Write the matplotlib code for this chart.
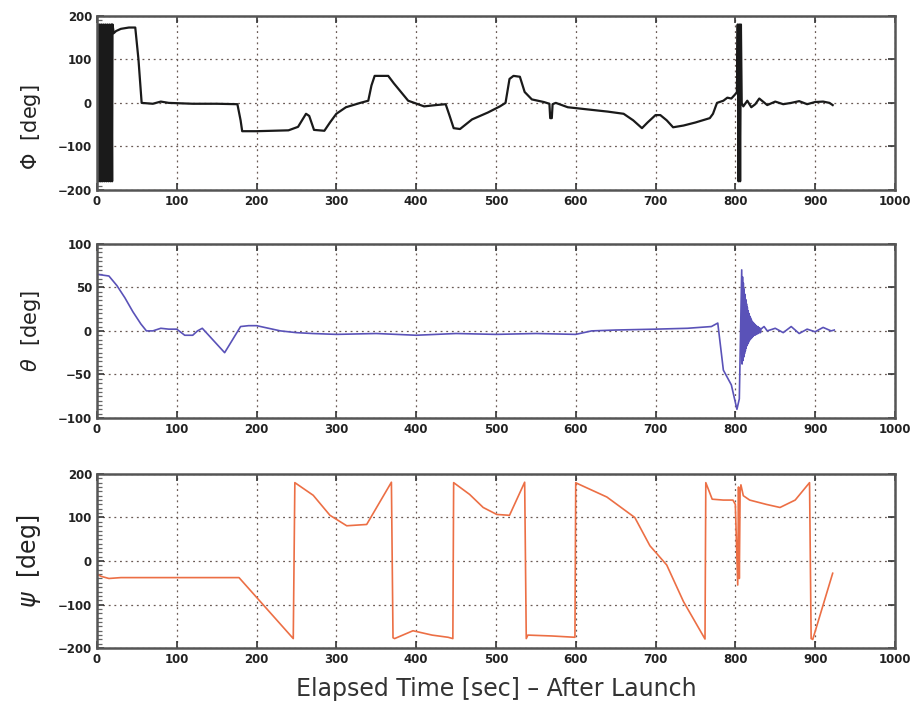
import matplotlib
matplotlib.use('Agg')
import matplotlib.pyplot as plt
from matplotlib.ticker import MultipleLocator, AutoMinorLocator

# roll angle Phi (black)
phi_t = [0, 1.2, 2.4, 3.6, 4.8, 6, 7.2, 8.4, 9.6, 10.8, 12, 13.2, 14.4, 15.6, 16.8, 18, 19,
         19.5, 21, 24, 30, 40, 48, 52, 56, 70, 80, 90, 120, 150, 176, 180, 182, 200, 240,
         252, 262, 266, 272, 285, 292, 300, 312, 330, 340, 344, 348, 365, 372, 390, 410,
         425, 437, 442, 447, 455, 470, 490, 505, 512, 517, 522, 530, 536, 545, 560, 567,
         568, 570, 571, 575, 590, 610, 640, 660, 672, 683, 690, 700, 706, 714, 722, 735,
         750, 768, 772, 777, 785, 790, 795, 800, 802, 803, 804, 805, 806, 807, 808, 810,
         815, 820, 825, 830, 840, 850, 860, 870, 880, 890, 900, 910, 918, 922]
phi_v = [-180, 180, -180, 180, -180, 180, -180, 180, -180, 180, -180, 180, -180, 180, -180, 180, -180,
         180, 160, 165, 170, 173, 173, 100, 0, -2, 3, 0, -2, -2, -3, -40, -65, -65, -63,
         -55, -25, -30, -62, -64, -45, -25, -10, 0, 5, 40, 62, 62, 45, 5, -8,
         -5, -3, -30, -58, -60, -38, -22, -8, 0, 55, 62, 60, 25, 8, 2, -2,
         -35, -35, -3, 0, -10, -14, -20, -25, -40, -58, -45, -28, -28, -40, -56, -52,
         -45, -35, -25, 0, 5, 12, 10, 20, 25, 180, -180, 180, -180, 180, 0, -8,
         5, -10, -3, 10, -5, 3, -3, 0, 4, -3, 2, 3, 0, -5]

# pitch angle theta (blue)
theta_t = [0, 15, 25, 35, 45, 55, 62, 70, 80, 90, 100, 110, 120, 126, 132, 140, 150, 160,
           170, 180, 190, 200, 215, 230, 250, 270, 300, 350, 400, 450, 500, 550, 600, 620,
           650, 700, 740, 770, 778, 785, 795, 802, 805,
           808, 808.5, 809, 809.5, 810, 810.5, 811, 811.5, 812, 812.5, 813, 813.5,
           814, 814.5, 815, 815.5, 816, 816.5, 817, 817.5, 818, 818.5, 819, 819.5,
           820, 820.5, 821, 821.5, 822, 822.5, 823, 823.5, 824, 824.5, 825, 825.5,
           826, 826.5, 827, 827.5, 828, 828.5, 829, 829.5, 830, 830.5, 831, 831.5, 832,
           836, 840, 850, 860, 870, 880, 890, 900, 910, 920, 924]
theta_v = [65, 63, 52, 38, 22, 8, 0, 0, 3, 2, 2, -5, -5, 0, 3, -5, -15, -25,
           -10, 5, 6, 6, 3, 0, -2, -3, -4, -3, -5, -3, -4, -3, -4, 0,
           1, 2, 3, 5, 9, -45, -62, -90, -78,
           70, -38, 62, -34, 55, -30, 48, -26, 42, -23, 36, -20,
           31, -17, 27, -15, 23, -13, 20, -11, 17, -10, 15, -9,
           13, -8, 11, -7, 10, -6, 9, -5, 8, -5, 7, -4,
           6, -4, 5, -3, 5, -3, 4, -2, 3, -2, 3, -2, 2,
           5, 0, 3, -2, 5, -3, 2, -1, 4, 0, 1]

# yaw angle psi (orange)
psi_t = [0, 5, 15, 30, 100, 178, 246, 248, 271, 292, 313, 338, 369, 371, 373, 396, 420,
         440, 446, 447, 467, 484, 501, 517, 536, 538, 540, 570, 599, 600, 602, 639, 674,
         693, 714, 735, 762, 763, 771, 785, 797, 800, 803, 804, 805, 806, 807, 810, 818,
         839, 856, 875, 893, 895, 897, 922]
psi_v = [-30, -35, -40, -38, -38, -38, -178, 180, 151, 105, 81, 84, 181, -176, -178, -160, -170,
         -175, -178, 180, 153, 123, 107, 105, 181, -178, -170, -172, -175, 180, 178, 147, 100,
         35, -9, -93, -179, 180, 142, 140, 140, 130, -55, 170, -40, 160, 175, 150, 140,
         130, 123, 140, 180, -178, -180, -28]

fig = plt.figure(figsize=(9.13, 7.17), dpi=100)

panels = [
    (phi_t, phi_v, '#1a1a1a', r'$\Phi$  [deg]', 200, 100, 0.735, 15, 0.36),
    (theta_t, theta_v, '#5a52b8', r'$\theta$  [deg]', 100, 50, 0.417, 15, 0.5),
    (psi_t, psi_v, '#ec6f45', r'$\psi$  [deg]', 200, 100, 0.096, 17, 0.5),
]

axes = []
for t, v, col, lab, lim, step, bottom, lsize, ly in panels:
    ax = fig.add_axes([0.1062, bottom, 0.874, 0.243])
    ax.plot(t, v, color=col, lw=1.6 if col == '#1a1a1a' else 1.2)
    ax.set_xlim(0, 1000)
    ax.set_ylim(-lim, lim)
    ax.xaxis.set_major_locator(MultipleLocator(100))
    ax.yaxis.set_major_locator(MultipleLocator(step))
    ax.yaxis.set_minor_locator(AutoMinorLocator(10))
    ax.grid(True, which='major', color='#6a5a55', linestyle=(0, (1.5, 3)), lw=0.9)
    ax.tick_params(which='major', direction='in', length=5, width=1.2, labelsize=8.5,
                   top=True, right=True, colors='#333333', labelcolor='#222222')
    ax.tick_params(which='minor', direction='in', length=3.5, width=0.9, colors='#666666',
                   right=False)
    for lbl in ax.get_xticklabels() + ax.get_yticklabels():
        lbl.set_fontweight('bold')
    for s in ax.spines.values():
        s.set_color('#555555')
        s.set_linewidth(1.8)
    ax.set_ylabel(lab, fontsize=lsize, color='#222222')
    ax.yaxis.set_label_coords(-0.068, ly)
    axes.append(ax)

axes[-1].set_xlabel('Elapsed Time [sec] \u2013 After Launch', fontsize=17,
                    color='#333333', labelpad=8)

fig.savefig('out.png', dpi=100)
